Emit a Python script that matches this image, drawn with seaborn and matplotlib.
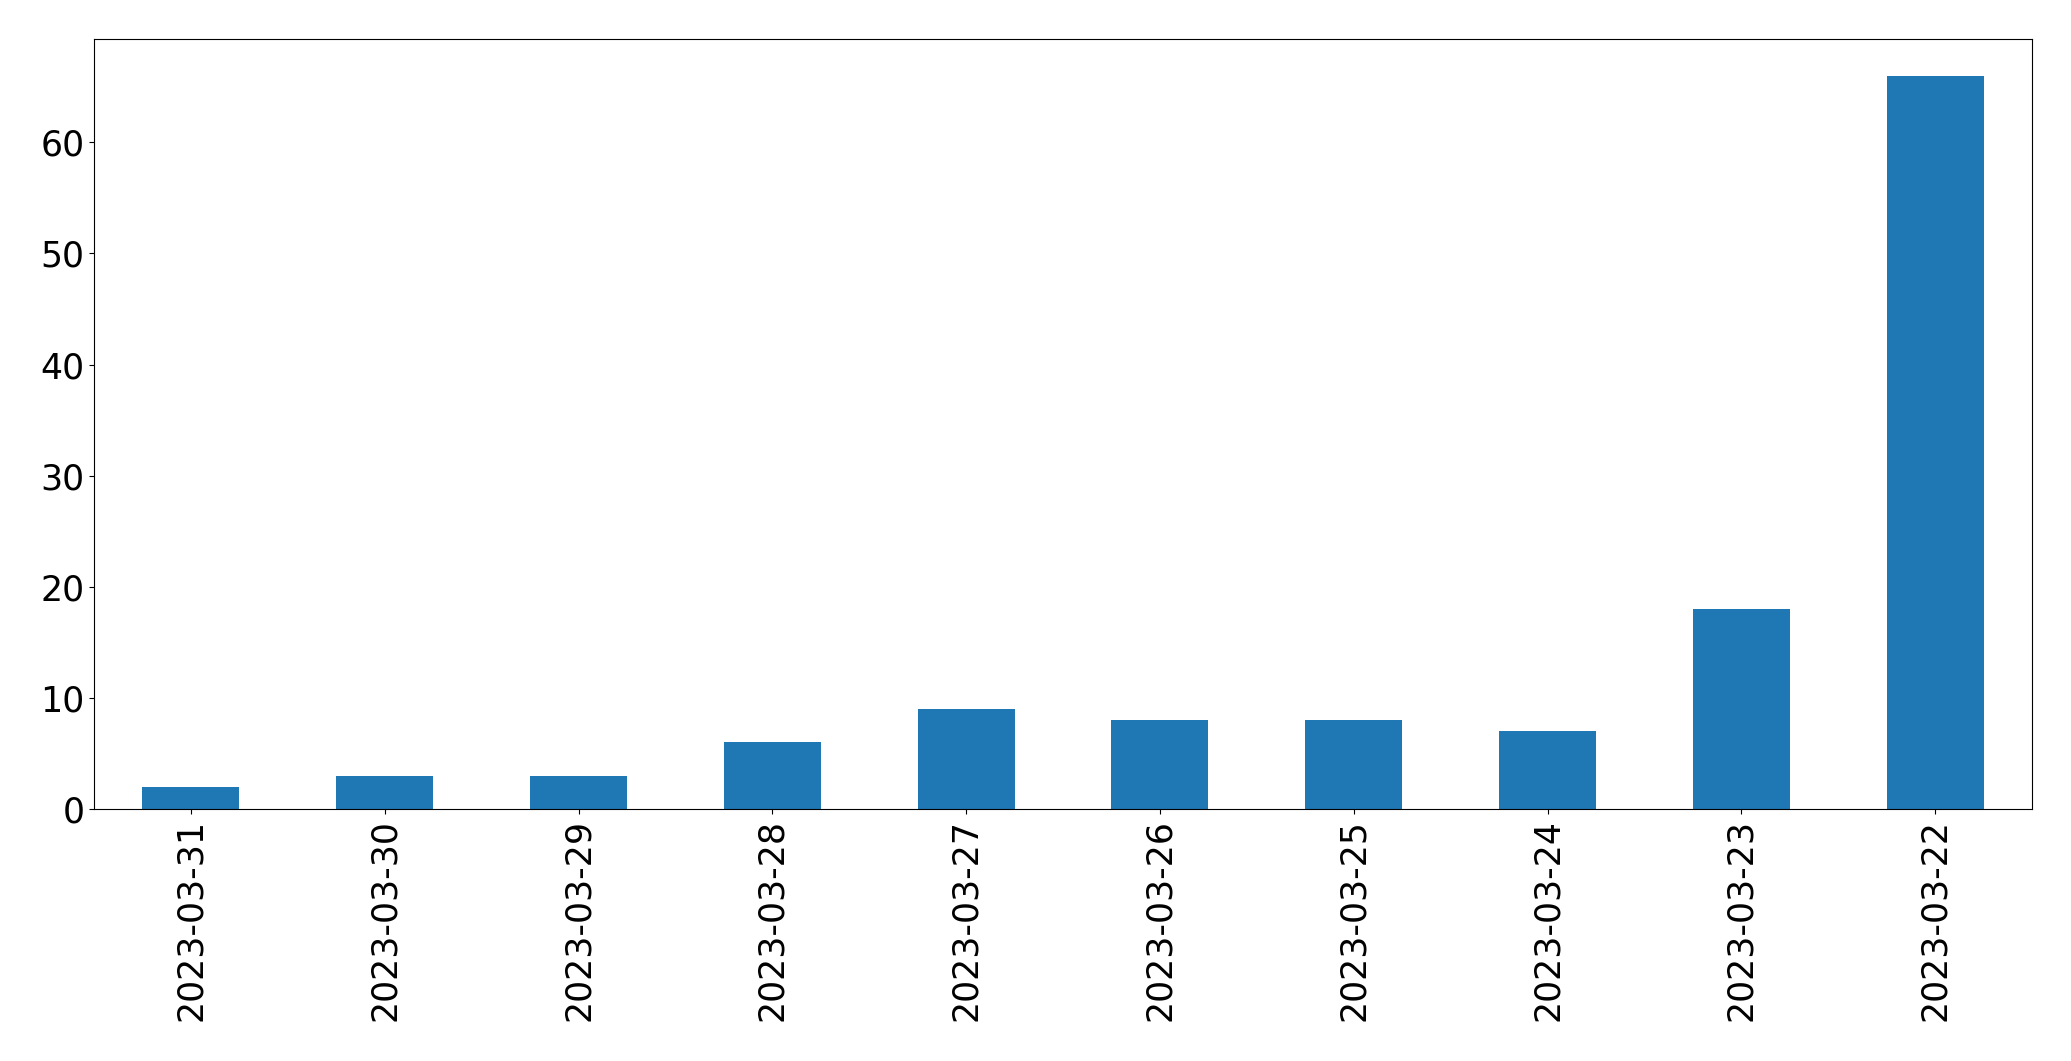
import seaborn as sns
import matplotlib.pyplot as plt
import pandas as pd

# tanggal dan jumlah per hari (urutan seperti di gambar)
dates = ["2023-03-31", "2023-03-30", "2023-03-29", "2023-03-28", "2023-03-27",
         "2023-03-26", "2023-03-25", "2023-03-24", "2023-03-23", "2023-03-22"]
counts = [2, 3, 3, 6, 9, 8, 8, 7, 18, 66]

df = pd.DataFrame({"date": dates, "count": counts})

fig = plt.figure(figsize=(20.71, 10.61), dpi=100)
ax = fig.add_axes([0.0454, 0.2375, 0.9358, 0.7257])
sns.barplot(data=df, x="date", y="count", order=dates, color="#1f77b4",
            saturation=1, width=0.5, linewidth=0, ax=ax)
ax.set_xlim(-0.5, len(dates) - 0.5)
ax.set_ylim(0, max(counts) * 1.05)
ax.set_xlabel("")
ax.set_ylabel("")
ax.tick_params(axis="both", labelsize=25)
plt.setp(ax.get_xticklabels(), rotation=90)
fig.savefig("out.png", dpi=100)
